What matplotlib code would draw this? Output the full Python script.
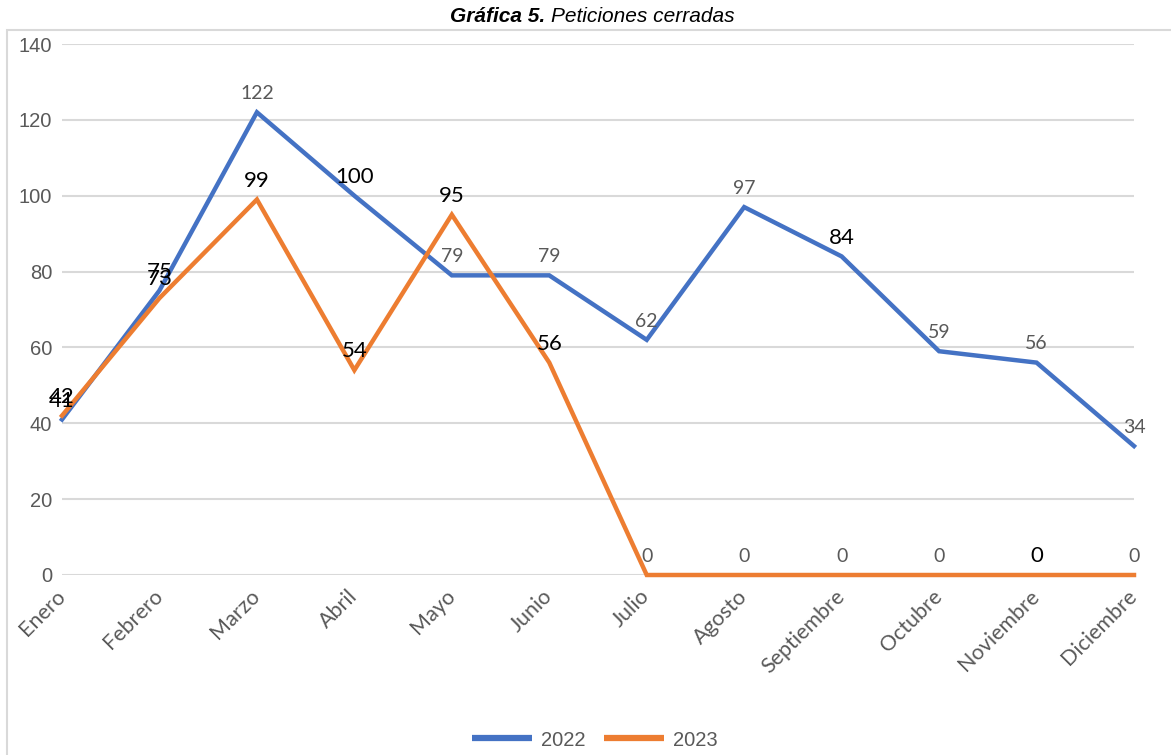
import matplotlib
matplotlib.use("Agg")
import matplotlib.pyplot as plt
from matplotlib.patches import Rectangle
from matplotlib.lines import Line2D

months = ["Enero", "Febrero", "Marzo", "Abril", "Mayo", "Junio", "Julio",
          "Agosto", "Septiembre", "Octubre", "Noviembre", "Diciembre"]
values_2022 = [41, 75, 122, 100, 79, 79, 62, 97, 84, 59, 56, 34]
values_2023 = [42, 73, 99, 54, 95, 56, 0, 0, 0, 0, 0, 0]
series_names = ["2022", "2023"]
y_ticks = [0, 20, 40, 60, 80, 100, 120, 140]

# label emphasis (black, larger) vs normal (gray) as in the reference
emph_2022 = [True, True, False, True, False, False, False, False, True, False, False, False]
emph_2023 = [True, True, True, True, True, True, False, False, False, False, True, False]

BLUE = "#4472C4"
ORANGE = "#ED7D31"
GRAY = "#595959"
GRID = "#D9D9D9"

W, H = 1171, 755
fig = plt.figure(figsize=(W / 100, H / 100), dpi=100)

# outer chart frame
fig.patches.append(Rectangle((7 / W, -0.05), 1.2, 1 - 30 / H + 0.05,
                             transform=fig.transFigure, fill=False,
                             edgecolor=GRID, linewidth=1.5, zorder=0))

fig.text(545 / W, 1 - 17 / H, "Gráfica 5.", fontsize=15, fontweight="bold",
         fontstyle="italic", family="Liberation Sans", ha="right", va="center")
fig.text(551 / W, 1 - 17 / H, "Peticiones cerradas", fontsize=15,
         fontstyle="italic", family="Liberation Sans", ha="left", va="center")

left, right = 62 / W, 1134 / W
bottom, top = 1 - 575 / H, 1 - 44 / H
ax = fig.add_axes([left, bottom, right - left, top - bottom])
ax.set_xlim(0, len(months) - 1)
ax.set_ylim(0, 140)
for s in ax.spines.values():
    s.set_visible(False)
ax.set_yticks(y_ticks)
ax.yaxis.grid(True, color=GRID, linewidth=1.5)
ax.set_axisbelow(True)
ax.tick_params(axis="both", length=0)
ax.tick_params(axis="y", pad=7)
for lab in ax.get_yticklabels():
    lab.set_family("Liberation Sans")
    lab.set_fontsize(14.5)
    lab.set_color(GRAY)

x = list(range(len(months)))
ax.set_xticks(x)
ax.set_xticklabels(months, rotation=45, ha="right", va="center",
                   rotation_mode="anchor", fontsize=15.5, color=GRAY,
                   family="Lato")
ax.tick_params(axis="x", pad=13)

ax.plot(x, values_2022, color=BLUE, linewidth=3.2, solid_joinstyle="miter",
        clip_on=False, zorder=3)
ax.plot(x, values_2023, color=ORANGE, linewidth=3.2, solid_joinstyle="miter",
        clip_on=False, zorder=4)

for vals, emph in ((values_2022, emph_2022), (values_2023, emph_2023)):
    for i, (v, e) in enumerate(zip(vals, emph)):
        ax.annotate(str(v), (i, v), xytext=(0, 13.5), textcoords="offset points",
                    ha="center", va="center", family="Lato",
                    fontsize=16 if e else 14, color="black" if e else GRAY,
                    zorder=6, annotation_clip=False)

handles = [Line2D([], [], color=BLUE, linewidth=4.5, solid_capstyle="butt"),
           Line2D([], [], color=ORANGE, linewidth=4.5, solid_capstyle="butt")]
leg = fig.legend(handles, series_names, loc="center", ncol=2,
                 bbox_to_anchor=(595 / W, 1 - 740 / H), frameon=False,
                 prop={"family": "Liberation Sans", "size": 14.5},
                 handlelength=3.0, handletextpad=0.45, columnspacing=0.9)
for t in leg.get_texts():
    t.set_color(GRAY)

fig.savefig("out.png", dpi=100)
